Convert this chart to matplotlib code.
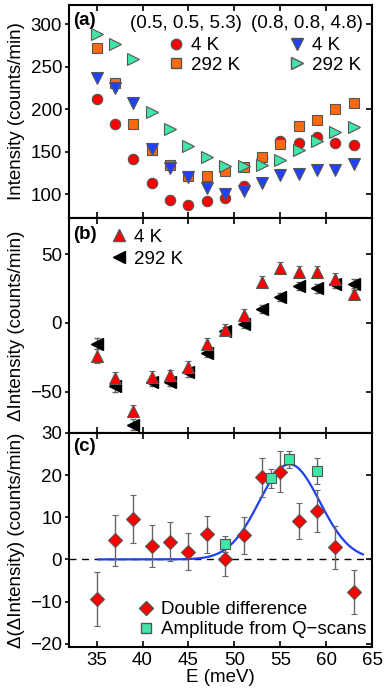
import numpy as np
import matplotlib
matplotlib.use("Agg")
import matplotlib.pyplot as plt
from matplotlib.lines import Line2D

plt.rcParams['font.family'] = ['Liberation Sans', 'DejaVu Sans']
plt.rcParams['font.size'] = 13.5

# energies (meV)
E = [35, 37, 39, 41, 43, 45, 47, 49, 51, 53, 55, 57, 59, 61, 63]

# panel (a): raw intensities
a_red_4K = [212, 183, 142, 114, 93, 87, 92, 96, 110, 143, 163, 161, 168, 161, 158]
a_org_292K = [272, 231, 183, 152, 135, 122, 122, 127, 132, 144, 159, 180, 188, 201, 207]
a_blue_4K = [237, 225, 207, 153, 131, 120, 107, 101, 104, 113, 123, 124, 129, 129, 136]
a_grn_292K = [289, 277, 259, 197, 177, 157, 144, 134, 133, 135, 140, 152, 163, 173, 179]

# panel (b): differences
b_4K = [-24, -40, -64, -39, -38, -32, -15, -5, 6, 30, 40, 37, 37, 32, 21]
b_4K_err = [5, 4, 4, 4, 4, 4, 4, 4, 4, 4, 4, 4, 4, 4, 4]
b_292K = [-15, -46, -74, -43, -43, -36, -22, -6, -1, 10, 19, 27, 25, 28, 28]
b_292K_err = [4, 4, 4, 3, 3, 3, 3, 3, 3, 3, 3, 3, 3, 3, 4]

# panel (c): double difference
c_dd = [-9.5, 4.5, 9.5, 3.1, 4.2, 1.8, 6.0, 0.0, 5.7, 19.5, 20.8, 9.2, 11.4, 2.9, -7.8]
c_dd_err = [6.4, 6.0, 5.7, 5.0, 4.6, 4.4, 4.4, 4.0, 4.4, 4.6, 4.9, 4.3, 5.0, 5.1, 5.2]
q_E = [49, 54, 56, 59]
q_amp = [3.7, 19.2, 23.8, 21.0]
q_err = [1.9, 2.3, 2.0, 3.0]

# gaussian fit parameters
fit_center, fit_amp, fit_sigma = 56.0, 22.6, 3.3
fit_range = (35.2, 64.0)

red = '#ff0000'
orange = '#ff6a10'
blue = '#2040ff'
green = '#40e6a6'
edge = '#555555'

fig = plt.figure(figsize=(3.88, 6.95), dpi=100)
L, W = 0.178, 0.781
ax_a = fig.add_axes([L, 0.686, W, 0.307])
ax_b = fig.add_axes([L, 0.377, W, 0.309])
ax_c = fig.add_axes([L, 0.069, W, 0.308])

for ax in (ax_a, ax_b, ax_c):
    ax.set_xlim(32, 65)
    ax.set_xticks([35, 40, 45, 50, 55, 60, 65])
    for s in ax.spines.values():
        s.set_linewidth(1.5)
    ax.tick_params(axis='x', direction='in', top=True, length=4, width=1.2)
    ax.tick_params(axis='y', which='both', direction='out', left=True, length=3, width=1.2, pad=2)
    # right side ticks inward
    sec = ax.secondary_yaxis('right')
    sec.tick_params(direction='in', length=4, width=1.2, labelright=False)
    sec.spines['right'].set_visible(False)

ms = 9
leg_kw = dict(frameon=False, handletextpad=0.2, borderpad=0.2, handlelength=1.2)

# (a)
ax_a.plot(E, a_red_4K, 'o', color=red, mec=edge, mew=0.8, ms=7.5, zorder=3)
ax_a.plot(E, a_org_292K, 's', color=orange, mec=edge, mew=0.8, ms=6.5, zorder=4)
ax_a.plot(E, a_blue_4K, 'v', color=blue, mec=edge, mew=0.8, ms=ms, zorder=5)
ax_a.plot(E, a_grn_292K, '>', color=green, mec=edge, mew=0.8, ms=ms, zorder=6)
ax_a.set_ylim(72, 323)
ax_a.set_yticks([100, 150, 200, 250, 300])
ax_a.tick_params(labelbottom=False)
ax_a.set_ylabel('Intensity (counts/min)')
ax_a.text(0.015, 0.965, '(a)', transform=ax_a.transAxes, fontweight='bold', va='top', ha='left')

ax_a.text(0.386, 0.915, '(0.5, 0.5, 5.3)', transform=ax_a.transAxes, ha='center', va='center')
ax_a.text(0.785, 0.915, '(0.8, 0.8, 4.8)', transform=ax_a.transAxes, ha='center', va='center')
h1 = [Line2D([], [], ls='', marker='o', color=red, mec=edge, ms=7.5),
      Line2D([], [], ls='', marker='s', color=orange, mec=edge, ms=6.5)]
h2 = [Line2D([], [], ls='', marker='v', color=blue, mec=edge, ms=ms),
      Line2D([], [], ls='', marker='>', color=green, mec=edge, ms=ms)]
leg1 = ax_a.legend(h1, ['4 K', '292 K'], loc='upper left', bbox_to_anchor=(0.271, 0.91),
                   labelspacing=0.12, **leg_kw)
ax_a.add_artist(leg1)
ax_a.legend(h2, ['4 K', '292 K'], loc='upper left', bbox_to_anchor=(0.673, 0.91),
            labelspacing=0.12, **leg_kw)

# (b)
ax_b.errorbar(E, b_292K, yerr=b_292K_err, fmt='<', color='black', mec='black', ms=ms,
              ecolor='#666666', elinewidth=1, capsize=2, zorder=3)
ax_b.errorbar(E, b_4K, yerr=b_4K_err, fmt='^', color=red, mec=edge, mew=0.8, ms=ms,
              ecolor='#666666', elinewidth=1, capsize=2, zorder=4)
ax_b.set_ylim(-80, 76)
ax_b.set_yticks([-50, 0, 50])
ax_b.tick_params(labelbottom=False)
ax_b.set_ylabel('ΔIntensity (counts/min)')
ax_b.text(0.015, 0.965, '(b)', transform=ax_b.transAxes, fontweight='bold', va='top', ha='left')
hb = [Line2D([], [], ls='', marker='^', color=red, mec=edge, ms=ms),
      Line2D([], [], ls='', marker='<', color='black', ms=ms)]
ax_b.legend(hb, ['4 K', '292 K'], loc='upper left', bbox_to_anchor=(0.085, 1.012),
            labelspacing=0.25, **leg_kw)

# (c)
xf = np.linspace(fit_range[0], fit_range[1], 200)
ax_c.axhline(0, color='black', ls='--', lw=1, dashes=(5, 4), zorder=1)
ax_c.plot(xf, fit_amp * np.exp(-(xf - fit_center) ** 2 / (2 * fit_sigma ** 2)),
          color='#2040ee', lw=1.6, zorder=2)
ax_c.errorbar(E, c_dd, yerr=c_dd_err, fmt='D', color=red, mec=edge, mew=0.8, ms=7.5,
              ecolor='#666666', elinewidth=1, capsize=2.5, zorder=3)
ax_c.errorbar(q_E, q_amp, yerr=q_err, fmt='s', color=green, mec=edge, mew=0.8, ms=7,
              ecolor='#666666', elinewidth=1, capsize=2.5, zorder=4)
ax_c.set_ylim(-20.8, 30)
ax_c.set_yticks([-20, -10, 0, 10, 20, 30])
ax_c.set_xlabel('E (meV)', labelpad=0)
ax_c.set_ylabel('Δ(ΔIntensity) (counts/min)')
ax_c.text(0.015, 0.975, '(c)', transform=ax_c.transAxes, fontweight='bold', va='top', ha='left')
hc = [Line2D([], [], ls='', marker='D', color=red, mec=edge, ms=7.5),
      Line2D([], [], ls='', marker='s', color=green, mec=edge, ms=7)]
ax_c.legend(hc, ['Double difference', 'Amplitude from Q\u2212scans'], loc='lower left',
            bbox_to_anchor=(0.174, -0.02), labelspacing=0.15, **leg_kw)

fig.align_ylabels([ax_a, ax_b, ax_c])
fig.savefig('out.png', dpi=100)
